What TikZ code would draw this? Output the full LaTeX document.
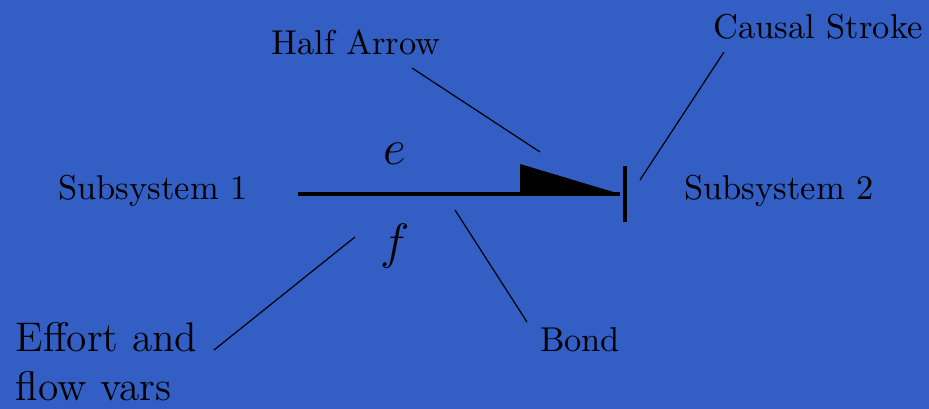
\documentclass[tikz,border=0pt]{standalone}
\begin{document}
\begin{tikzpicture}[x=0.29pt,y=-0.29pt,
  lbl/.style={inner sep=0pt,font=\normalsize},
  leader/.style={line width=0.35pt},
  bondline/.style={line width=1.05pt}]
\definecolor{bgblue}{RGB}{51,94,196}
\fill[bgblue] (0,0) rectangle (929,409);
\useasboundingbox (0,0) rectangle (929,409);
% labels
\node[lbl] (s1) at (153,191) {Subsystem 1};
\node[lbl] (s2) at (779,191) {Subsystem 2};
\node[lbl] (ha) at (356,42) {Half Arrow};
\node[lbl] (cs) at (818,27) {Causal Stroke};
\node[lbl] (bd) at (580,340) {Bond};
\node[lbl,font=\large,align=left,anchor=north west] (ef) at (15,322) {Effort and\\flow vars};
\node[lbl,font=\Large] (e) at (395,154) {$e$};
\node[lbl,font=\Large] (f) at (395,246) {$f$};
% bond
\coordinate (b0) at (298,194);
\coordinate (b1) at (620,194);
\coordinate (h0) at (520,164);
\coordinate (h1) at (520,194);
\draw[bondline] (b0) -- (b1);
\fill (h0) -- (h1) -- (b1) -- cycle;
\coordinate (c0) at (625,166);
\coordinate (c1) at (625,222);
\draw[bondline] (c0) -- (c1);
% leaders
\coordinate (l1a) at (412,68); \coordinate (l1b) at (540,152);
\coordinate (l2a) at (724,52); \coordinate (l2b) at (640,180);
\coordinate (l3a) at (455,210); \coordinate (l3b) at (527,322);
\coordinate (l4a) at (214,350); \coordinate (l4b) at (355,237);
\draw[leader] (l1a) -- (l1b);
\draw[leader] (l2a) -- (l2b);
\draw[leader] (l3a) -- (l3b);
\draw[leader] (l4a) -- (l4b);
\end{tikzpicture}
\end{document}
